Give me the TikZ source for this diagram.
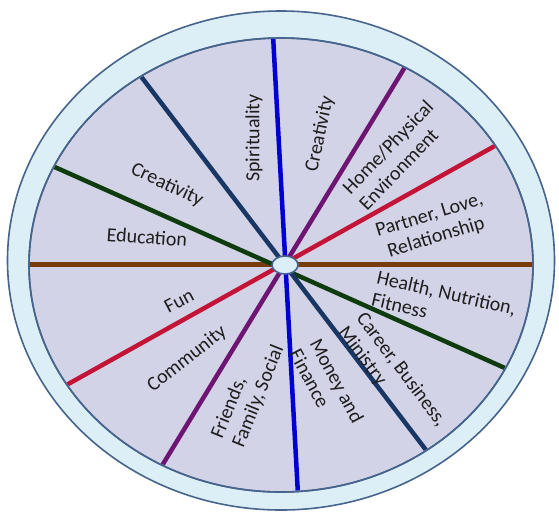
\documentclass[tikz,border=0pt]{standalone}
\usepackage{fontspec}
\setmainfont{Carlito}
\usetikzlibrary{shapes.geometric}
\definecolor{rimfill}{RGB}{221,239,246}
\definecolor{facefill}{RGB}{210,211,230}
\definecolor{edgecol}{RGB}{70,100,140}
\definecolor{cbrown}{RGB}{120,60,10}
\definecolor{cblue}{RGB}{0,0,210}
\definecolor{cnavy}{RGB}{25,55,100}
\definecolor{cgreen}{RGB}{15,60,15}
\definecolor{cpurple}{RGB}{110,20,115}
\definecolor{cred}{RGB}{195,20,55}
\definecolor{textc}{RGB}{30,30,30}
\begin{document}
\begin{tikzpicture}[x=1pt,y=-1pt,
  rim/.style={draw=edgecol,line width=1.6pt,fill=rimfill},
  face/.style={draw=edgecol,line width=1.6pt,fill=facefill},
  spoke/.style={line width=4.5pt,line cap=butt},
  hubstyle/.style={ellipse,draw=edgecol,line width=1.6pt,fill=rimfill,minimum width=26pt,minimum height=18pt,inner sep=0pt},
  lbl/.style={inner sep=0pt,text=textc,font=\fontsize{20}{23}\selectfont}]
\useasboundingbox (0,0) rectangle (559,512);
\fill[white] (0,0) rectangle (559,512);
\draw[rim] (281,260.5) ellipse [x radius=273.5pt, y radius=249.5pt];
\draw[face] (281,265) ellipse [x radius=252pt, y radius=227pt];
% spoke end points
\coordinate (bL) at (27,264.5);
\coordinate (bR) at (536,264.5);
\coordinate (uT) at (273,35);
\coordinate (uB) at (298,495);
\coordinate (nT) at (141,76.4);
\coordinate (nB) at (428,452.6);
\coordinate (gL) at (54,166.7);
\coordinate (gR) at (510,370.3);
\coordinate (pT) at (407,63.7);
\coordinate (pB) at (161,467.3);
\coordinate (rT) at (496,145.3);
\coordinate (rB) at (67,384.7);
\begin{scope}
\clip (281,265) ellipse [x radius=251pt, y radius=226pt];
\draw[spoke,cbrown] (bL) -- (bR);
\draw[spoke,cgreen] (gL) -- (gR);
\draw[spoke,cred] (rT) -- (rB);
\draw[spoke,cpurple] (pT) -- (pB);
\draw[spoke,cnavy] (nT) -- (nB);
\draw[spoke,cblue] (uT) -- (uB);
\end{scope}
\draw[draw=edgecol,line width=1.6pt] (281,265) ellipse [x radius=252pt, y radius=227pt];
\node[hubstyle] (hub) at (285,265) {};
% labels
\node[lbl,rotate=-4] (edu) at (147,237) {Education};
\node[lbl,rotate=-25] (crL) at (167,185) {Creativity};
\node[lbl,rotate=90] (spi) at (254,138) {Spirituality};
\node[lbl,rotate=78] (crR) at (320,134) {Creativity};
\node[lbl,rotate=46,align=left] (home) at (396,155) {Home/Physical\\Environment};
\node[lbl,rotate=17,align=center] (partner) at (433,227) {Partner, Love,\\Relationship};
\node[lbl,rotate=-13,align=left] (health) at (444,304) {Health, Nutrition,\\Fitness};
\node[lbl,rotate=-53,align=left] (career) at (392,377) {Career, Business,\\Ministry};
\node[lbl,rotate=-62,align=left] (money) at (327,386) {Money and\\Finance};
\node[lbl,rotate=68,align=left] (friends) at (248,392) {Friends,\\Family, Social};
\node[lbl,rotate=38] (comm) at (187,359) {Community};
\node[lbl,rotate=28] (fun) at (179,301) {Fun};
\end{tikzpicture}
\end{document}
